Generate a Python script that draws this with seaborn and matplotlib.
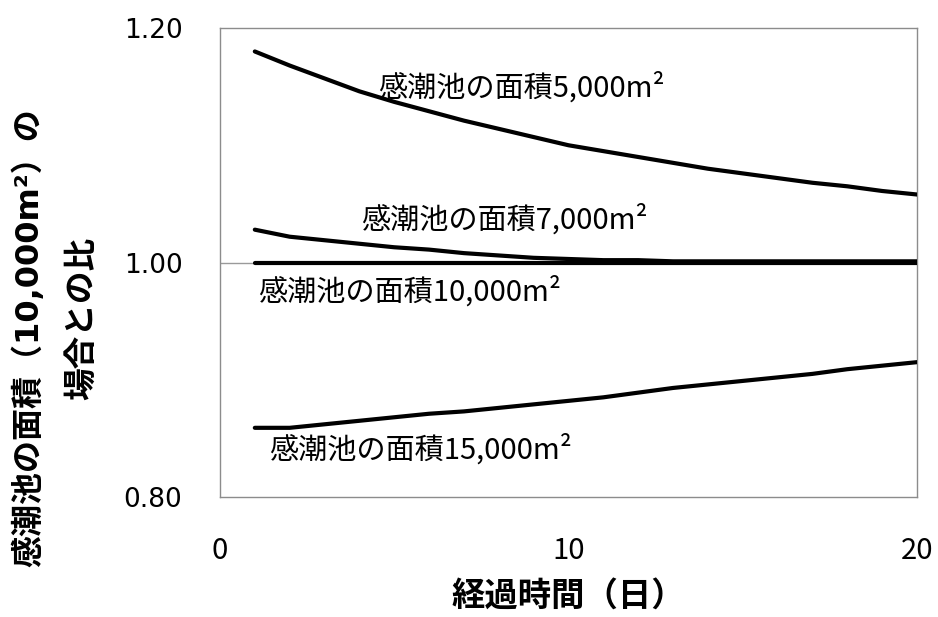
import matplotlib
matplotlib.use("Agg")
import matplotlib.pyplot as plt
import seaborn as sns
import pandas as pd

# Elapsed days
days = list(range(1, 21))

# Ratio to the 10,000 m² tidal-pond case, per pond area
ratio_5000 = [1.180, 1.168, 1.157, 1.146, 1.137, 1.129, 1.121, 1.114, 1.107, 1.100,
              1.095, 1.090, 1.085, 1.080, 1.076, 1.072, 1.068, 1.065, 1.061, 1.058]
ratio_7000 = [1.028, 1.022, 1.019, 1.016, 1.013, 1.011, 1.008, 1.006, 1.004, 1.003,
              1.002, 1.002, 1.001, 1.001, 1.001, 1.001, 1.001, 1.001, 1.001, 1.001]
ratio_10000 = [1.000] * 20
ratio_15000 = [0.859, 0.859, 0.862, 0.865, 0.868, 0.871, 0.873, 0.876, 0.879, 0.882,
               0.885, 0.889, 0.893, 0.896, 0.899, 0.902, 0.905, 0.909, 0.912, 0.915]

series_names = ["感潮池の面積5,000m²", "感潮池の面積7,000m²",
                "感潮池の面積10,000m²", "感潮池の面積15,000m²"]
series_values = [ratio_5000, ratio_7000, ratio_10000, ratio_15000]

x_ticks = [0, 10, 20]
y_ticks = [0.80, 1.00, 1.20]
y_tick_labels = ["0.80", "1.00", "1.20"]

df = pd.DataFrame({
    "day": days * len(series_names),
    "ratio": sum(series_values, []),
    "area": sum([[n] * len(days) for n in series_names], []),
})

sns.set_theme(style="white")
plt.rcParams["font.family"] = ["Noto Sans CJK JP", "DejaVu Sans"]
plt.rcParams["text.color"] = "black"
plt.rcParams["xtick.color"] = "black"
plt.rcParams["ytick.color"] = "black"
plt.rcParams["axes.labelcolor"] = "black"

fig = plt.figure(figsize=(9.38, 6.17), dpi=100)
ax = fig.add_axes([0.2345, 0.1945, 0.7431, 0.7601])

ax.axhline(1.0, color="#9a9a9a", linewidth=1.0, zorder=1)

sns.lineplot(data=df, x="day", y="ratio", hue="area", hue_order=series_names,
             palette=["black"] * 4, linewidth=3.0, legend=False, ax=ax,
             zorder=3)

ax.set_xlim(0, 20)
ax.set_ylim(0.80, 1.20)
ax.set_xticks(x_ticks)
ax.set_xticklabels([str(t) for t in x_ticks], fontsize=21, color="black")
ax.set_yticks(y_ticks)
ax.set_yticklabels(y_tick_labels, fontsize=19, family="DejaVu Sans",
                   color="black")
ax.tick_params(axis="both", length=0)
ax.tick_params(axis="x", pad=28)
ax.tick_params(axis="y", pad=27)

for s in ax.spines.values():
    s.set_color("#8c8c8c")
    s.set_linewidth(1.0)

ax.set_xlabel("経過時間（日）", fontsize=24, fontweight="bold", labelpad=10,
              color="black")
ax.set_ylabel("")

# Two-line vertical axis title
fig.text(0.031, 0.452, "感潮池の面積（10,000m²）の", rotation=90,
         ha="center", va="center", fontsize=23, fontweight="bold",
         color="black", family=["DejaVu Sans", "Noto Sans CJK JP"])
fig.text(0.0864, 0.4846, "場合との比", rotation=90,
         ha="center", va="center", fontsize=23.5, fontweight="bold",
         color="black", family=["Noto Sans CJK JP", "DejaVu Sans"])

# Curve labels
label_pos = [(4.55, 1.149), (4.05, 1.036), (1.1, 0.975), (1.4, 0.840)]
for name, (lx, ly) in zip(series_names, label_pos):
    ax.text(lx, ly, name, fontsize=21, va="center", ha="left", color="black",
            zorder=4)

fig.savefig("out.png", dpi=100)
